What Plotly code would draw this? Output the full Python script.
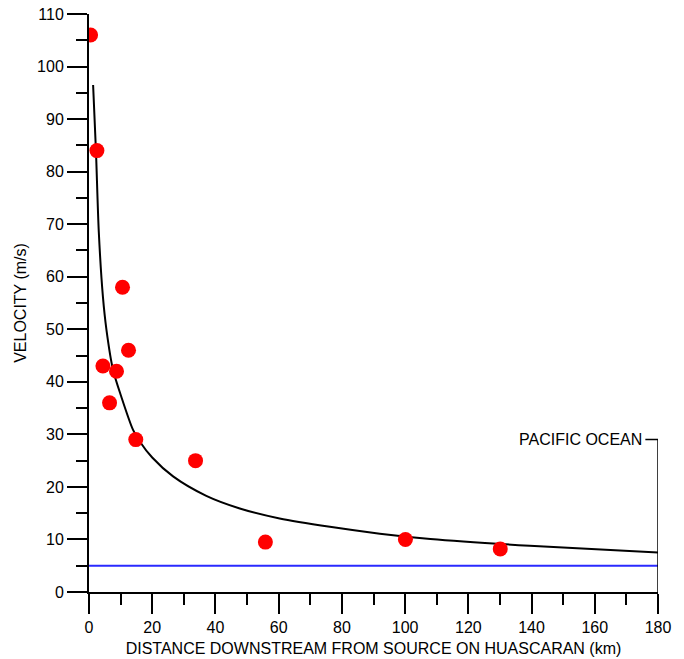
import plotly.graph_objects as go

# Observed velocities (red dots)
distance_km = [0.5, 2.5, 4.4, 6.5, 8.7, 10.6, 12.5, 14.8, 33.7, 55.8, 100.1, 130.1]
velocity_ms = [106, 84, 43, 36, 42, 58, 46, 29, 25, 9.5, 10, 8.2]

# Fitted curve, points
curve_x = [1.3, 2.2, 3.1, 4.4, 5.5, 7.6, 10.2, 13.9, 16.0, 20.0, 26.6, 37.1, 47.7, 60.3, 76.2, 92.0, 108.0, 139.4, 180]
curve_y = [96.5, 84.0, 68.5, 56.2, 50.0, 42.3, 37.2, 30.9, 28.7, 25.6, 22.0, 18.3, 15.9, 14.0, 12.4, 11.1, 10.1, 8.8, 7.5]

# Reference level (blue line)
ref_x = [0, 180]
ref_y = [5, 5]

# Pacific Ocean marker
ocean_x = 180
ocean_label_y = 29
ocean_leader_x = 176

x_ticks = [0, 20, 40, 60, 80, 100, 120, 140, 160, 180]
y_ticks = [0, 10, 20, 30, 40, 50, 60, 70, 80, 90, 100, 110]

FONT = "Liberation Sans, Arial, Helvetica, sans-serif"

fig = go.Figure()

fig.add_trace(go.Scatter(x=ref_x, y=ref_y, mode="lines",
                         line=dict(color="#2a2aff", width=2), hoverinfo="skip"))
fig.add_trace(go.Scatter(x=curve_x, y=curve_y, mode="lines",
                         line=dict(color="black", width=2, shape="spline", smoothing=0.8)))
fig.add_trace(go.Scatter(x=[ocean_leader_x, ocean_x, ocean_x], y=[ocean_label_y, ocean_label_y, 0],
                         mode="lines", line=dict(color="black", width=1.5), hoverinfo="skip"))
fig.add_trace(go.Scatter(x=distance_km, y=velocity_ms, mode="markers",
                         marker=dict(color="#ff0000", size=15, line=dict(width=0))))

fig.add_annotation(x=ocean_leader_x, y=ocean_label_y, text="PACIFIC OCEAN", showarrow=False,
                   xanchor="right", yanchor="middle", xshift=-1,
                   font=dict(family=FONT, size=16, color="black"))

fig.update_layout(
    width=684, height=659,
    margin=dict(l=89, r=26, t=14, b=67),
    paper_bgcolor="white", plot_bgcolor="white",
    showlegend=False,
    font=dict(family=FONT, size=16, color="black"),
)

fig.update_xaxes(
    range=[0, 180], tickvals=x_ticks, showgrid=False, zeroline=False, automargin=False,
    ticklabeloverflow="allow",
    showline=True, linecolor="black", linewidth=2,
    ticks="outside", ticklen=20, tickwidth=2, tickcolor="black",
    minor=dict(dtick=10, ticks="outside", ticklen=11, tickwidth=2, tickcolor="black", showgrid=False),
    tickfont=dict(family=FONT, size=16),
    title=dict(text="DISTANCE DOWNSTREAM FROM SOURCE ON HUASCARAN (km)",
               font=dict(family=FONT, size=16), standoff=8),
)
fig.update_yaxes(
    range=[0, 110], tickvals=y_ticks, showgrid=False, zeroline=False, automargin=False,
    ticklabeloverflow="allow",
    showline=True, linecolor="black", linewidth=2,
    ticks="outside", ticklen=20, tickwidth=2, tickcolor="black",
    minor=dict(dtick=5, ticks="outside", ticklen=11, tickwidth=2, tickcolor="black", showgrid=False),
    tickfont=dict(family=FONT, size=16),
    title=dict(text="VELOCITY (m/s)", font=dict(family=FONT, size=16), standoff=6),
)

# Remove the default 8px page margin so the figure fills the window exactly
fig.write_html("out.html", config={"displayModeBar": False},
               post_script="document.body.style.margin='0';")
